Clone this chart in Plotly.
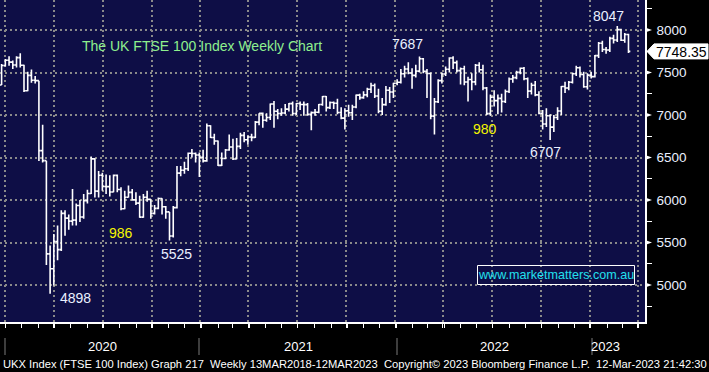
import pandas as pd
import plotly.graph_objects as go

# ---------------- data (weekly OHLC) ----------------
week_start = "2019-12-20"
n_weeks = 169
weeks = pd.date_range(week_start, periods=n_weeks, freq="7D")

opens = [
    7353, 7582,
    7645, 7622, 7588, 7675, 7586,
    7286, 7466, 7409, 7404,
    6581, 6463, 5366, 5191,
    5510, 5416, 5843, 5787,
    5752, 5763, 5936, 5800, 5993,
    6077, 6484, 6105, 6292,
    6159, 6157, 6095, 6290, 6124,
    5898, 6032, 6090, 6002,
    5963, 5799, 6032, 6007,
    5843, 5902, 6017, 5920, 5860,
    5577, 5910, 6316, 6351,
    6367, 6550, 6547, 6529, 6502,
    6461, 6873, 6736, 6695,
    6407, 6489, 6589, 6624,
    6483, 6631, 6761, 6709,
    6741, 6737, 6916, 7019, 6938,
    6970, 7130, 7044, 7018,
    7023, 7069, 7134, 7017,
    7136, 7123, 7122, 7008, 7028,
    7032, 7123, 7218, 7087,
    7148, 7138, 7029, 6963,
    7051, 7027, 7095, 7234, 7204,
    7237, 7303, 7348, 7223,
    7044, 7122, 7291, 7270, 7373,
    7385, 7485, 7542, 7494,
    7466, 7516, 7661, 7513,
    7489, 6987, 7156, 7405,
    7483, 7538, 7670, 7616, 7522,
    7545, 7388, 7418, 7390,
    7585, 7533, 7318, 7016,
    7209, 7169, 7196, 7159, 7276,
    7423, 7440, 7501, 7550,
    7427, 7281, 7351, 7237, 7019,
    6894, 6991, 6858, 6970,
    7047, 7335, 7318, 7385,
    7486, 7556, 7476, 7332, 7469,
    7452, 7699, 7844, 7771,
    7765, 7902, 7882, 8004,
    7879, 7947,
]
highs = [
    7600, 7660,
    7690, 7640, 7690, 7727, 7590,
    7508, 7534, 7460, 7404,
    6886, 6463, 5466, 5600,
    5700, 5880, 5880, 5830,
    6130, 5960, 6000, 6070, 6120,
    6511, 6490, 6340, 6320,
    6300, 6290, 6300, 6300, 6150,
    6110, 6170, 6130, 6090,
    6050, 6070, 6110, 6007,
    5940, 6030, 6020, 5930, 5860,
    5930, 6400, 6400, 6450,
    6560, 6600, 6560, 6560, 6590,
    6900, 6880, 6780, 6700,
    6560, 6600, 6770, 6720,
    6730, 6790, 6800, 6760,
    6780, 6930, 7020, 7030, 7020,
    7135, 7165, 7070, 7080,
    7130, 7140, 7160, 7140,
    7160, 7160, 7140, 7040, 7070,
    7130, 7225, 7225, 7160,
    7160, 7190, 7090, 7080,
    7120, 7120, 7240, 7250, 7280,
    7320, 7380, 7370, 7310,
    7200, 7340, 7330, 7380, 7420,
    7540, 7580, 7620, 7550,
    7590, 7687, 7670, 7540,
    7500, 7200, 7420, 7500,
    7570, 7680, 7690, 7640, 7560,
    7580, 7450, 7490, 7600,
    7620, 7590, 7330, 7240,
    7290, 7240, 7250, 7300, 7440,
    7470, 7520, 7560, 7565,
    7440, 7380, 7400, 7280, 7060,
    7080, 7010, 7000, 7090,
    7340, 7390, 7400, 7500,
    7580, 7570, 7510, 7490, 7510,
    7705, 7860, 7875, 7800,
    7920, 7945, 8047, 8015,
    7965, 7955,
]
lows = [
    7353, 7570,
    7580, 7540, 7560, 7560, 7270,
    7280, 7380, 7370, 6460,
    6440, 5237, 4898, 4994,
    5290, 5400, 5580, 5650,
    5700, 5700, 5740, 5780, 5960,
    6070, 6030, 6030, 6110,
    6070, 6040, 6090, 6090, 5880,
    5890, 6030, 5990, 5940,
    5790, 5790, 5980, 5780,
    5830, 5890, 5830, 5780, 5525,
    5560, 5900, 6280, 6310,
    6340, 6500, 6440, 6270, 6440,
    6450, 6730, 6650, 6400,
    6400, 6480, 6580, 6470,
    6480, 6600, 6680, 6650,
    6690, 6730, 6880, 6850, 6920,
    6940, 6850, 6950, 6990,
    7010, 7040, 6990, 7000,
    7060, 6990, 6990, 6820, 6990,
    7020, 7110, 7040, 7070,
    7070, 7010, 6950, 6830,
    6980, 6940, 7080, 7180, 7190,
    7210, 7260, 7200, 7020,
    7000, 7110, 7140, 7200, 7350,
    7370, 7440, 7480, 7310,
    7440, 7500, 7490, 7200,
    6950, 6770, 7140, 7370,
    7460, 7500, 7540, 7500, 7360,
    7350, 7160, 7290, 7350,
    7500, 7290, 7000, 6990,
    7100, 7010, 7030, 7140, 7260,
    7380, 7420, 7480, 7410,
    7200, 7240, 7220, 7010, 6830,
    6860, 6707, 6800, 6940,
    7000, 7260, 7290, 7370,
    7460, 7440, 7320, 7300, 7430,
    7440, 7670, 7740, 7720,
    7740, 7840, 7860, 7870,
    7850, 7730,
]
closes = [
    7582, 7645,
    7622, 7588, 7675, 7586, 7286,
    7466, 7409, 7404, 6581,
    6463, 5366, 5191, 5510,
    5416, 5843, 5787, 5752,
    5763, 5936, 5800, 5993, 6077,
    6484, 6105, 6292, 6159,
    6157, 6095, 6290, 6124, 5898,
    6032, 6090, 6002, 5963,
    5799, 6032, 6007, 5843,
    5902, 6017, 5920, 5860, 5577,
    5910, 6316, 6351, 6367,
    6550, 6547, 6529, 6502, 6461,
    6873, 6736, 6695, 6407,
    6489, 6589, 6624, 6483,
    6631, 6761, 6709, 6741,
    6737, 6916, 7019, 6938, 6970,
    7130, 7044, 7018, 7023,
    7069, 7134, 7017, 7136,
    7123, 7122, 7008, 7028, 7032,
    7123, 7218, 7087, 7148,
    7138, 7029, 6963, 7051,
    7027, 7095, 7234, 7204, 7237,
    7303, 7348, 7223, 7044,
    7122, 7291, 7270, 7373, 7385,
    7485, 7542, 7494, 7466,
    7516, 7661, 7513, 7489,
    6987, 7156, 7405, 7483,
    7538, 7670, 7616, 7522, 7545,
    7388, 7418, 7390, 7585,
    7533, 7318, 7016, 7209,
    7169, 7196, 7159, 7276, 7423,
    7440, 7501, 7550, 7427,
    7281, 7351, 7237, 7019, 6894,
    6991, 6858, 6970, 7047,
    7335, 7318, 7385, 7486,
    7556, 7476, 7332, 7469, 7452,
    7699, 7844, 7771, 7765,
    7902, 7882, 8004, 7879,
    7947, 7748.35,
]

y_ticks = [5000, 5500, 6000, 6500, 7000, 7500, 8000]
year_labels = ["2020", "2021", "2022", "2023"]
last_price_label = "7748.35"
title_text = "The UK FTSE 100 Index Weekly Chart"
note_labels = ["7687", "8047", "4898", "5525", "6707"]
drop_labels = ["986", "980"]
website = "www.marketmatters.com.au"
footer = ("UKX Index (FTSE 100 Index) Graph 217  Weekly 13MAR2018-12MAR2023  "
          "Copyright\u00a9 2023 Bloomberg Finance L.P.  12-Mar-2023 21:42:30")

# ---------------- layout constants ----------------
W, H = 709, 372
PW, PH = 645, 322          # plot area in pixels
X0, X1 = pd.Timestamp("2019-12-17"), pd.Timestamp("2023-04-10")
Y0, Y1 = 4565, 8353

def px(xp):   # pixel x -> paper
    return xp / PW

def py(yp):   # pixel y -> paper
    return 1 - yp / PH

def vy(v):    # value -> paper y
    return (v - Y0) / (Y1 - Y0)

NAVY = "#0e0e46"
GRID = "#8a8a8a"
TXT = "#eaf0ff"
SANS = "Liberation Sans, Arial, sans-serif"

fig = go.Figure()
fig.add_trace(go.Ohlc(
    x=weeks, open=opens, high=highs, low=lows, close=closes,
    increasing=dict(line=dict(color="white", width=1.6)),
    decreasing=dict(line=dict(color="white", width=1.6)),
    tickwidth=0.5, hoverinfo="skip", showlegend=False,
))

shapes = []
# arrow-head ticks on the right axis
for v in y_ticks:
    shapes.append(dict(
        type="path", xref="paper", yref="paper",
        path=f"M {px(PW)},{vy(v) + 2.6/PH} L {px(PW + 7)},{vy(v)} L {px(PW)},{vy(v) - 2.6/PH} Z",
        fillcolor="white", line=dict(width=0),
    ))
# last price tag
lp = closes[-1]
ly = vy(lp)
hh = 7.5 / PH
shapes.append(dict(
    type="path", xref="paper", yref="paper",
    path=(f"M {px(647)},{ly} L {px(654)},{ly + hh} L {px(708)},{ly + hh} "
          f"L {px(708)},{ly - hh} L {px(654)},{ly - hh} Z"),
    fillcolor="white", line=dict(color="white", width=1),
))
# year separators below the axis
for xp in [5, 199, 397, 592]:
    shapes.append(dict(type="line", xref="paper", yref="paper",
                       x0=px(xp), x1=px(xp), y0=py(338), y1=py(355),
                       line=dict(color="#7a7a7a", width=1)))
# website box
shapes.append(dict(type="rect", xref="paper", yref="paper",
                   x0=px(477.5), x1=px(634.5), y0=py(265.5), y1=py(284.5),
                   line=dict(color="white", width=1), fillcolor="rgba(0,0,0,0)"))

ann = []
def label(text, x, y, color=TXT, size=14, font=SANS, xanchor="center"):
    ann.append(dict(text=text, x=px(x), y=py(y), xref="paper", yref="paper",
                    showarrow=False, xanchor=xanchor, yanchor="middle",
                    font=dict(color=color, size=size, family=font)))

label(title_text, 80, 46, color="#8ef08e", size=14, xanchor="left")
for t, (x, y) in zip(note_labels, [(407, 44), (608, 16), (75, 298), (176, 254), (545, 152)]):
    label(t, x, y)
for t, (x, y) in zip(drop_labels, [(121, 233), (485, 129)]):
    label(t, x, y, color="#f5f500")
label(website, 556, 275, color="#22e0ee", size=12.6)
label(last_price_label, 681, 52, color="black", size=14)
for t, x in zip(year_labels, [102, 298, 494, 605]):
    label(t, x, 346, color="white", size=13)
label(footer, 1, 364, color="white", size=11.2, xanchor="left")

fig.update_layout(
    width=W, height=H,
    margin=dict(l=0, r=W - PW, t=0, b=H - PH),
    paper_bgcolor="black", plot_bgcolor=NAVY,
    shapes=shapes, annotations=ann, showlegend=False,
    xaxis=dict(
        type="date", range=[X0, X1], rangeslider=dict(visible=False),
        showgrid=True, gridcolor=GRID, gridwidth=1.5, griddash="2px,3px",
        tick0="2019-12-27", dtick="M3", showticklabels=False,
        ticks="outside", ticklen=4, tickcolor="white", tickwidth=1,
        minor=dict(tick0="2019-12-27", dtick="M1", ticks="outside", ticklen=4,
                   tickcolor="white", tickwidth=1, showgrid=False),
        showline=True, linecolor="white", linewidth=1.5, zeroline=False,
        fixedrange=True,
    ),
    yaxis=dict(
        side="right", range=[Y0, Y1],
        tickmode="array", tickvals=y_ticks, ticktext=[str(v) for v in y_ticks],
        showgrid=True, gridcolor=GRID, gridwidth=1.5, griddash="2px,3px",
        ticks="outside", ticklen=7, tickcolor="rgba(0,0,0,0)",
        minor=dict(tickmode="linear", tick0=4750, dtick=500, ticks="outside",
                   ticklen=5, tickcolor="white", tickwidth=1, showgrid=False),
        tickfont=dict(color=TXT, size=13.5, family=SANS),
        showline=True, linecolor="white", linewidth=1.5, zeroline=False,
        fixedrange=True,
    ),
)

fig.write_html(
    "out.html",
    config={"displayModeBar": False},
    post_script="document.body.style.margin='0';document.body.style.overflow='hidden';"
                "document.body.style.background='black';",
)
